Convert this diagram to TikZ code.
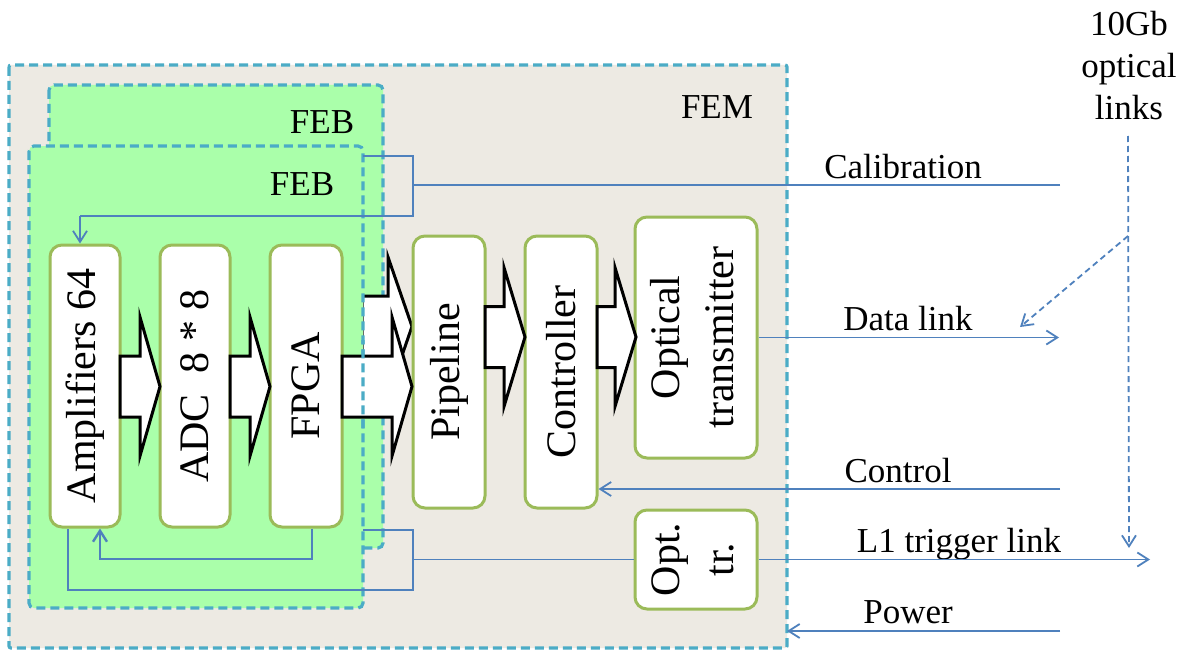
\documentclass[tikz,border=0pt]{standalone}
\usepackage{fontspec}
\setmainfont{Liberation Serif}
\usetikzlibrary{arrows.meta}
\definecolor{femfill}{RGB}{237,234,227}
\definecolor{febfill}{RGB}{170,255,170}
\definecolor{dashc}{RGB}{75,172,198}
\definecolor{blkc}{RGB}{155,187,89}
\definecolor{linkc}{RGB}{79,129,189}
\newcommand\blockarr[4]{%
  \draw[barrowst] (#1,#4-30.5) -- (#2,#4-30.5) -- (#2,#4-69.5) -- (#3,#4)
    -- (#2,#4+69.5) -- (#2,#4+30.5) -- (#1,#4+30.5) -- cycle;}
\begin{document}
\begin{tikzpicture}[x=1pt,y=-1pt,
  dbox/.style={draw=dashc, line width=3.2pt, dash pattern=on 9pt off 5pt},
  block/.style={draw=blkc, fill=white, line width=3pt, rounded corners=12pt,
    inner sep=0pt, font=\fontsize{42}{54}\selectfont},
  lbl/.style={font=\fontsize{35}{42}\selectfont, inner sep=0pt},
  link/.style={draw=linkc, line width=1.8pt},
  arr/.style={-{Straight Barb[length=11pt,width=14pt]}},
  dlink/.style={link, dash pattern=on 6pt off 4pt},
  barrowst/.style={draw=black, fill=white, line width=3pt, line join=miter}
]
\useasboundingbox (0,0) rectangle (1185,650);
\fill[white] (0,0) rectangle (1185,650);

% FEM
\coordinate (femNW) at (9,65);
\coordinate (femSE) at (787,648);
\draw[dbox, fill=femfill, rounded corners=2pt] (femNW) rectangle (femSE);

% back FEB
\coordinate (febBNW) at (49,85);
\coordinate (febBSE) at (383,548);
\draw[dbox, fill=febfill, rounded corners=5pt] (febBNW) rectangle (febBSE);
\blockarr{362}{388}{412}{326.5}

% front FEB
\coordinate (febFNW) at (29,146);
\coordinate (febFSE) at (363,608);
\draw[dbox, fill=febfill, rounded corners=5pt] (febFNW) rectangle (febFSE);

% blocks
\node[block, minimum width=70pt, minimum height=282pt] (amp) at (85,386) {\rotatebox{90}{Amplifiers 64}};
\node[block, minimum width=70pt, minimum height=282pt] (adc) at (195,386) {\rotatebox{90}{ADC\ \ 8 * 8}};
\node[block, minimum width=72pt, minimum height=282pt] (fpga) at (306,386) {\rotatebox{90}{FPGA}};
\node[block, minimum width=72pt, minimum height=272pt] (pipe) at (449,372) {\rotatebox{90}{Pipeline}};
\node[block, minimum width=72pt, minimum height=272pt] (ctrl) at (561,372) {\rotatebox{90}{Controller}};
\node[block, minimum width=122pt, minimum height=241pt] (optx) at (696,337.5)
  {\rotatebox{90}{\begin{tabular}{@{}c@{}}Optical\\transmitter\end{tabular}}};
\node[block, minimum width=122pt, minimum height=99pt] (optr) at (696,559.5)
  {\rotatebox{90}{\begin{tabular}{@{}c@{}}Opt.\\tr.\end{tabular}}};

% block arrows
\blockarr{120}{140}{160}{386.5}
\blockarr{230}{250}{270}{386.5}
\blockarr{342}{392}{412}{386.5}
\blockarr{485}{504}{525}{337}
\blockarr{597}{615}{636}{337}
\begin{scope}
  \clip (350,340) rectangle (378,430);
  \draw[dbox, rounded corners=5pt] (febFNW) rectangle (febFSE);
\end{scope}

% labels
\node[lbl, anchor=base] (femL) at (717,118) {FEM};
\node[lbl, anchor=base] (febBL) at (322,134) {FEB};
\node[lbl, anchor=base] (febFL) at (302,195) {FEB};
\node[lbl, anchor=base] (calL) at (903,178) {Calibration};
\node[lbl, anchor=base] (dataL) at (908,330) {Data link};
\node[lbl, anchor=base] (ctlL) at (898,482) {Control};
\node[lbl, anchor=base] (l1L) at (959,552) {L1 trigger link};
\node[lbl, anchor=base] (pwrL) at (908,623) {Power};
\node[lbl, align=center, anchor=north] (gbL) at (1129,11) {10Gb\\optical\\links};

% calibration
\coordinate (calIn) at (1060,185);
\coordinate (calJ) at (413,185);
\coordinate (calT) at (413,156);
\coordinate (calB) at (413,216);
\coordinate (calFB) at (363,156);
\coordinate (calA) at (80,216);
\draw[link] (calIn) -- (calJ);
\draw[link] (calFB) -- (calT) -- (calB) -- (calA);
\draw[link, arr] (calA) -- (calA |- amp.north);

% opt. tr. distribution
\coordinate (trJ) at (413,559.5);
\coordinate (trT) at (413,530);
\coordinate (trB) at (413,590);
\coordinate (trFB) at (363,530);
\coordinate (trA) at (68,590);
\draw[link] (optr.west) -- (trJ);
\draw[link] (trFB) -- (trT) -- (trB) -- (trA) -- (trA |- amp.south);

% FPGA feedback
\coordinate (fbS) at (312,559);
\coordinate (fbA) at (100,559);
\draw[link, line width=2.4pt, arr] (fbS |- fpga.south) -- (fbS) -- (fbA) -- (fbA |- amp.south);

% external links
\coordinate (dataEnd) at (1059,337.5);
\draw[link, arr] (optx.east) -- (dataEnd);
\coordinate (ctlIn) at (1060,489);
\draw[link, arr] (ctlIn) -- (ctlIn -| ctrl.east);
\coordinate (l1End) at (1150,559.5);
\draw[link, arr] (optr.east) -- (l1End);
\coordinate (pwrIn) at (1060,631);
\draw[link, arr] (pwrIn) -- (pwrIn -| femSE);

% 10Gb optical links pointers
\coordinate (gbTop) at (1128,136);
\coordinate (gbEnd) at (1129,548);
\coordinate (gbJ) at (1128,236);
\coordinate (gbDiag) at (1020,327);
\draw[dlink, arr] (gbTop) -- (gbEnd);
\draw[dlink, arr] (gbJ) -- (gbDiag);
\end{tikzpicture}
\end{document}
